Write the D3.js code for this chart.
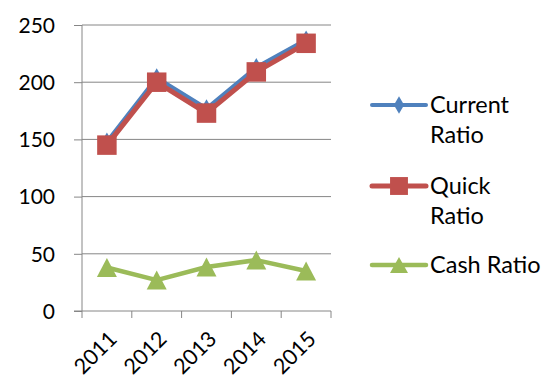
<!DOCTYPE html>
<html><head><meta charset="utf-8">
<script src="https://cdn.jsdelivr.net/npm/d3@7"></script>
<style>body{margin:0;background:#fff}svg{display:block}text{font-family:Lato,"Open Sans",sans-serif;fill:#000}</style>
</head><body>
<svg id="c" width="549" height="383"></svg>
<script>
const years = ["2011","2012","2013","2014","2015"];
const currentRatio = [148, 204, 177, 213, 237];
const quickRatio = [145, 200, 173, 209, 234];
const cashRatio = [38, 27, 38.5, 44.5, 35];
const yTicks = [0, 50, 100, 150, 200, 250];
const seriesNames = [["Current","Ratio"],["Quick","Ratio"],["Cash Ratio"]];

(function(){
const svg = d3.select("#c");
const pL = 82, pR = 331, pT = 25, pB = 311;
const x = d3.scaleBand().domain(years).range([pL, pR]);
const y = d3.scaleLinear().domain([0, 250]).range([pB, pT]);

// gridlines
svg.append("g").selectAll("line").data(yTicks.filter(d => d > 0)).join("line")
  .attr("x1", pL).attr("x2", pR).attr("y1", d => y(d)).attr("y2", d => y(d))
  .attr("stroke", "#868686").attr("stroke-width", 1);

// y axis
const ya = svg.append("g").attr("transform", `translate(${pL},0)`)
  .call(d3.axisLeft(y).tickValues(yTicks).tickSize(8).tickPadding(19));
ya.select(".domain").attr("stroke", "#868686").attr("d", `M0,${pT}V${pB}`);
ya.selectAll(".tick line").attr("stroke", "#868686");
ya.selectAll(".tick text").style("font-size", "21px").style("font-family", "Lato").attr("dy", "0.35em");

// x axis
svg.append("line").attr("x1", pL - 8).attr("x2", pR).attr("y1", pB).attr("y2", pB).attr("stroke", "#868686");
const edges = d3.range(years.length + 1).map(i => pL + i * x.step());
svg.append("g").selectAll("line").data(edges).join("line")
  .attr("x1", d => d).attr("x2", d => d).attr("y1", pB).attr("y2", pB + 7)
  .attr("stroke", "#868686");
svg.append("g").selectAll("text").data(years).join("text")
  .attr("transform", d => `translate(${x(d) + x.bandwidth()/2 + 6},${pB + 24}) rotate(-45)`)
  .attr("text-anchor", "end").attr("dy", "0.35em").style("font-size", "21.5px").text(d => d);

const cx = d => x(d) + x.bandwidth() / 2;
const tri = (w, h) => `M0,${-h/2}L${w/2},${h/2}L${-w/2},${h/2}Z`;
const series = [
  {vals: currentRatio, color: "#4F81BD", w: 4, marker: d3.symbol(d3.symbolDiamond, 100)()},
  {vals: quickRatio, color: "#C0504D", w: 5, marker: d3.symbol(d3.symbolSquare, 380)()},
  {vals: cashRatio, color: "#9BBB59", w: 4.5, marker: tri(20, 19)}
];
const line = d3.line().x((d, i) => cx(years[i])).y(d => y(d));
series.forEach(s => {
  svg.append("path").attr("d", line(s.vals)).attr("fill", "none")
    .attr("stroke", s.color).attr("stroke-width", s.w).attr("stroke-linejoin", "round");
  svg.append("g").selectAll("path").data(s.vals).join("path")
    .attr("d", s.marker)
    .attr("transform", (d, i) => `translate(${cx(years[i])},${y(d)})`)
    .attr("fill", s.color);
});

// legend
const legY = [105, 186, 265];
const legMarkers = [d3.symbol(d3.symbolDiamond, 90)(), d3.symbol(d3.symbolSquare, 320)(), tri(18, 16)];
series.forEach((s, i) => {
  const g = svg.append("g").attr("transform", `translate(0,${legY[i]})`);
  g.append("line").attr("x1", 372).attr("x2", 426).attr("stroke", s.color)
    .attr("stroke-width", s.w).attr("stroke-linecap", "round");
  g.append("path").attr("d", legMarkers[i]).attr("transform", "translate(399,0)").attr("fill", s.color);
  const t = g.append("text").attr("x", 430).attr("y", 0).style("font-size", "23.5px");
  seriesNames[i].forEach((n, k) => t.append("tspan").attr("x", 430).attr("dy", k === 0 ? "0.35em" : "30px").text(n));
});
})();
</script>
</body></html>
